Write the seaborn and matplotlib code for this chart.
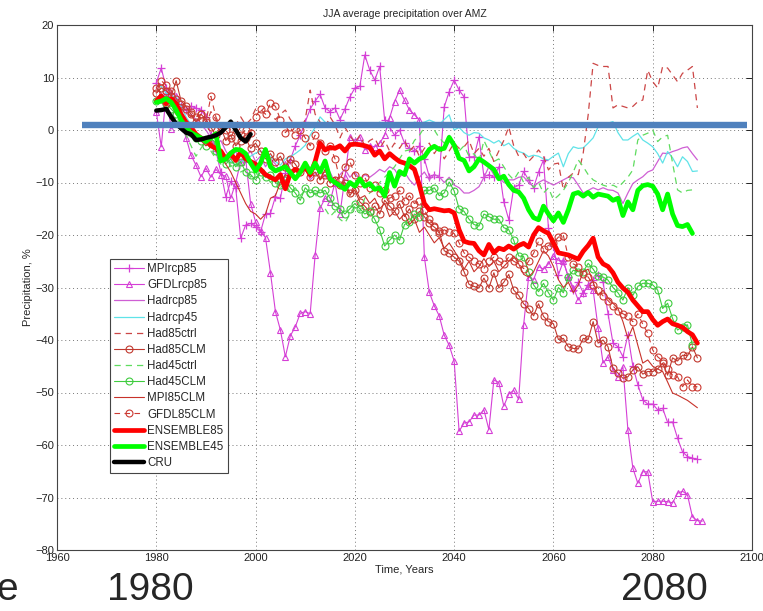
import numpy as np
import matplotlib
matplotlib.use("Agg")
import matplotlib.pyplot as plt
import seaborn as sns

# ---------------- data ----------------
START = 1980
MPIrcp85 = [9.0, 11.8, 8.0, 7.0, 5.5, 4.5, 3.8, 4.5, 4.2, 3.8,
            2.5, -1.0, -4.0, -8.0, -12.7, -9.8, -11.0, -20.6, -18.1, -17.8,
            -18.5, -19.4, -16.0, -15.9, -12.7, -13.0, -8.2, -5.7, -3.0, -1.0,
            1.5, 4.0, 5.5, 6.8, 4.2, 3.5, 4.2, 2.0, 4.0, 6.3,
            8.0, 8.3, 14.3, 11.4, 9.5, 12.1, 1.9, 0.5, -1.0, 0.0,
            -2.5, -3.5, -4.0, -3.0, -5.5, -8.9, -8.5, -8.9, 4.4, 7.3,
            9.5, 7.6, 6.3, -5.1, -5.1, -1.3, -8.9, -8.5, -9.0, -7.0,
            -13.7, -17.1, -11.0, -10.5, -7.9, -9.5, -11.0, -8.0, -5.7, -18.7,
            -22.0, -27.6, -25.0, -28.0, -30.5, -29.0, -31.0, -29.5, -28.5, -27.6,
            -29.0, -35.0, -40.6, -41.3, -43.2, -39.0, -45.0, -48.5, -51.4, -52.2,
            -52.2, -53.3, -53.0, -55.7, -55.6, -58.7, -61.3, -62.2, -62.5, -62.7]
GFDLrcp85 = [3.5, -3.2, 7.0, 0.2, 6.5, 2.0, -1.5, -4.8, -6.7, -8.9,
             -7.3, -9.0, -7.5, -8.5, -8.8, -13.0, -10.0, -6.0, -5.5, -14.0,
             -17.5, -19.3, -20.5, -27.2, -34.6, -38.1, -43.2, -39.2, -37.5, -34.9,
             -34.6, -35.0, -23.8, -14.9, -13.0, -13.7, -10.0, -16.0, -9.0, -1.3,
             -2.0, -1.3, -3.8, -3.0, -3.2, -2.5, -1.0, 2.3, 5.4, 7.6,
             5.7, 3.8, 2.9, 1.9, -24.2, -30.9, -33.5, -35.4, -39.1, -41.0,
             -44.0, -57.4, -55.8, -55.6, -54.3, -54.3, -53.3, -57.1, -47.6, -48.1,
             -52.6, -50.3, -49.6, -51.3, -37.1, -28.0, -28.5, -26.0, -26.5, -25.5,
             -24.0, -24.8, -25.0, -28.0, -30.0, -32.4, -31.0, -29.8, -30.5, -37.7,
             -44.4, -43.2, -45.7, -47.0, -45.1, -57.1, -64.4, -67.3, -65.1, -65.1,
             -70.8, -70.7, -70.7, -70.8, -71.0, -69.2, -68.8, -69.5, -73.7, -74.4,
             -74.5]
Hadrcp85 = [8.0, 7.0, 6.0, 5.0, 4.5, 3.5, 4.0, 3.0, 2.0, 1.0,
            0.0, -1.5, -3.0, -2.0, -4.0, -5.5, -4.0, -6.5, -5.0, -4.0,
            -6.0, -5.0, -7.0, -5.5, -6.5, -8.0, -6.0, -7.5, -9.0, -8.0,
            -7.0, -9.5, -8.5, -7.5, -9.0, -8.0, -10.0, -8.5, -7.5, -9.0,
            -8.0, -9.5, -8.5, -9.0, -8.3, -7.5, -8.0, -7.0, -7.5, -9.0,
            -8.0, -9.5, -10.5, -9.0, -8.0, -9.5, -8.5, -8.9, -10.0, -9.0,
            -10.5, -11.0, -12.0, -12.0, -11.5, -10.8, -9.0, -7.0, -8.5, -9.0,
            -10.0, -9.5, -9.5, -9.0, -8.9, -10.0, -10.8, -10.0, -9.5, -10.0,
            -10.5, -10.0, -9.5, -9.0, -9.1, -10.5, -12.0, -11.5, -11.0, -11.4,
            -11.0, -11.4, -11.5, -12.0, -14.0, -12.0, -10.2, -9.5, -8.9, -8.0,
            -7.6, -6.0, -4.4, -4.5, -4.1, -3.8, -3.4, -3.2, -4.5, -5.7]
Hadrcp45 = [8.5, 8.3, 7.0, 6.5, 6.3, 4.5, 2.5, 1.0, -0.5, -1.6,
            -2.5, -3.0, -3.8, -4.5, -5.7, -6.0, -6.7, -6.0, -5.7, -5.0,
            -4.4, -4.0, -4.5, -5.0, -6.0, -6.7, -5.5, -5.1, -4.5, -3.8,
            -2.9, -1.0, 0.5, 2.5, 1.5, 0.6, 1.0, 0.8, 1.5, 0.5,
            0.6, 1.0, 0.5, 1.2, 0.8, 1.5, 0.8, 1.0, 1.2, 0.8,
            1.3, 1.0, 1.5, 1.3, 1.5, 1.9, 1.5, 1.0, 2.0, 2.9,
            0.0, 0.5, -0.5, -1.0, -0.5, -0.6, -1.5, -1.9, -2.5, -2.0,
            -3.0, -2.5, -3.5, -4.1, -4.4, -5.1, -4.8, -5.0, -5.5, -5.7,
            -5.0, -4.4, -7.0, -4.5, -3.2, -3.5, -3.4, -2.5, -1.5, 0.6,
            1.0, 1.3, 1.6, -0.5, -1.9, -1.9, -1.2, -0.6, -1.9, -2.5,
            -3.2, -4.5, -6.3, -4.1, -5.3, -7.0, -5.1, -6.0, -7.9, -7.8]
Had85ctrl = [8.0, 7.0, 6.0, 6.5, 5.0, 4.0, 3.5, 2.5, 3.0, 2.0,
             1.0, 3.5, 2.0, 0.5, 1.5, 0.0, 1.0, 2.5, 1.0, 2.0,
             4.0, 3.5, 4.5, 3.0, 2.0, 3.0, 3.8, 2.0, 1.0, 0.0,
             2.0, 7.6, 3.0, 1.5, 0.5, 2.5, 1.0, -1.5, 0.5, -1.0,
             -2.5, -1.0, -3.0, -2.0, -1.5, -3.5, -2.0, -4.0, -2.5, -3.5,
             -2.0, -4.0, -3.0, -5.0, -3.5, -2.5, -4.5, -3.0, -5.5, -4.0,
             -2.5, -3.5, -3.2, -2.0, -4.5, -3.5, -5.0, -3.5, -6.0, -4.0,
             -2.0, 0.6, -3.0, -5.0, -4.5, -6.0, -5.0, -3.8, -5.0, -7.6,
             -6.5, -6.3, -11.4, -9.0, -8.2, -8.5, -4.4, 2.9, 12.7, 12.3,
             12.1, 12.1, 4.2, 4.8, 4.5, 4.2, 4.5, 5.4, 5.7, 11.4,
             9.2, 8.0, 12.1, 11.8, 10.5, 9.2, 10.8, 11.4, 12.1, 4.2]
Had85CLM = [7.0, 8.0, 7.5, 6.5, 9.4, 5.5, 4.5, 3.0, 1.5, 3.0,
            2.0, 0.5, -1.0, 0.5, -2.0, -1.0, -3.0, -2.0, -1.5, -3.5,
            -2.5, -4.0, -5.5, -4.5, -6.0, -5.0, -7.0, -5.5, -6.5, -8.0,
            -7.0, -9.0, -8.0, -9.5, -8.5, -10.0, -9.6, -10.5, -10.0, -12.0,
            -11.5, -13.7, -14.5, -15.6, -14.5, -16.0, -13.4, -14.5, -15.5, -14.0,
            -16.5, -15.0, -17.0, -15.5, -16.5, -17.8, -18.5, -19.3, -23.0, -23.5,
            -24.2, -25.0, -27.0, -29.4, -29.8, -30.1, -28.2, -30.1, -27.2, -30.1,
            -29.0, -27.5, -30.5, -31.5, -33.1, -34.0, -35.4, -33.1, -35.5, -36.5,
            -36.9, -39.9, -39.7, -41.3, -41.6, -41.7, -39.7, -39.9, -36.5, -40.6,
            -40.0, -41.3, -45.4, -46.3, -47.3, -47.0, -45.7, -45.1, -46.5, -46.0,
            -46.0, -45.5, -44.4, -46.7, -43.4, -44.0, -42.9, -43.0, -41.3, -43.4]
Had45ctrl = [6.0, 5.0, 4.5, 3.0, 2.0, 1.0, -1.0, -3.0, -5.0, -3.5,
             -2.0, -4.0, -5.5, -6.5, -5.0, -7.0, -6.0, -8.0, -7.5, -9.0,
             -8.0, -9.5, -8.5, -10.0, -9.0, -11.0, -10.0, -12.0, -11.0, -12.5,
             -11.5, -13.0, -12.0, -14.5, -15.0, -16.5, -15.5, -17.0, -17.7, -16.0,
             -14.5, -15.5, -13.0, -12.0, -11.0, -10.0, -9.0, -8.0, -7.0, -5.5,
             -4.0, -3.8, -2.0, -1.0, 0.5, 1.0, 0.0, -1.5, -2.5, -1.0,
             -3.0, -4.0, -3.0, -5.0, -4.5, -6.0, -2.0, -4.0, -6.0, -5.5,
             -7.0, -8.5, -9.5, -8.0, -10.0, -9.0, -11.0, -10.0, -12.0, -11.0,
             -13.3, -12.5, -11.5, -10.0, -8.0, -5.7, -7.0, -8.5, -9.5, -10.0,
             -10.5, -10.8, -10.5, -11.0, -10.0, -9.0, -7.6, -1.9, -1.0, -0.6,
             0.0, -2.2, -1.3, -1.0, -6.3, -11.4, -12.0, -11.5, -11.4]
Had45CLM = [5.5, 6.0, 5.0, 4.0, 3.0, 2.0, 0.5, -0.5, -1.5, -2.0,
            -3.0, -2.5, -4.0, -5.0, -6.5, -5.5, -7.0, -6.0, -8.0, -8.5,
            -9.5, -8.0, -9.0, -8.5, -10.0, -10.5, -9.5, -11.0, -12.0, -13.4,
            -11.0, -12.0, -11.5, -12.0, -11.5, -13.0, -14.5, -15.0, -16.0, -15.0,
            -14.0, -15.0, -16.0, -15.5, -17.0, -19.0, -22.1, -21.0, -20.0, -21.0,
            -18.0, -17.5, -16.0, -16.5, -11.5, -11.5, -11.0, -12.5, -12.0, -9.9,
            -11.6, -15.0, -15.5, -17.0, -18.0, -18.3, -16.0, -16.5, -17.0, -17.0,
            -18.6, -19.0, -21.0, -24.0, -24.1, -27.0, -29.5, -30.8, -29.2, -31.0,
            -32.4, -30.0, -31.0, -28.0, -26.7, -27.0, -27.0, -25.4, -26.5, -27.9,
            -28.0, -28.6, -30.0, -31.0, -32.4, -30.0, -31.5, -29.8, -29.2, -29.2,
            -29.5, -30.5, -34.0, -33.0, -35.9, -38.1, -37.5, -37.1, -41.0]
MPI85CLM = [6.0, 5.5, 4.0, 5.0, 3.0, 2.0, 1.0, 0.0, -1.0, -2.0,
            -3.0, -2.0, -4.0, -5.0, -6.5, -8.0, -10.0, -12.0, -14.0, -15.5,
            -16.0, -17.0, -16.0, -13.0, -12.5, -10.0, -8.5, -9.0, -7.5, -8.5,
            -7.0, -9.0, -6.0, -9.5, -7.5, -10.0, -9.0, -11.0, -10.5, -12.5,
            -11.0, -13.0, -12.5, -14.0, -13.0, -15.0, -14.0, -16.5, -15.5, -17.0,
            -16.0, -18.0, -17.0, -19.5, -18.5, -20.0, -21.5, -20.5, -22.5, -21.5,
            -23.0, -24.5, -26.5, -25.0, -27.0, -26.0, -24.5, -26.0, -25.0, -27.0,
            -26.0, -25.0, -24.0, -25.5, -27.5, -28.0, -27.0, -25.0, -23.0, -24.0,
            -26.0, -28.5, -30.0, -29.0, -31.0, -29.5, -27.0, -26.5, -29.0, -31.5,
            -30.5, -32.0, -33.0, -34.0, -36.5, -39.7, -37.5, -41.0, -44.4, -43.8,
            -45.0, -45.5, -46.0, -48.0, -50.1, -50.5, -51.0, -51.5, -52.2, -52.9]
GFDL85CLM = [8.0, 9.4, 8.5, 7.5, 6.0, 5.0, 4.0, 3.5, 2.5, 3.0,
             1.5, 6.4, 2.5, 0.5, 0.0, -1.5, 0.5, -1.0, 0.0, -0.5,
             2.5, 4.0, 3.0, 5.1, 4.5, 2.0, -0.5, 0.5, -1.0, 0.0,
             -1.5, -3.0, -1.0, -2.5, -4.0, -3.0, -5.5, -9.6, -7.0, -6.0,
             -8.5, -10.0, -9.0, -11.0, -10.5, -12.0, -11.5, -13.0, -12.5, -11.5,
             -13.5, -12.5, -14.0, -13.5, -15.2, -17.0, -18.2, -19.7, -19.0, -19.5,
             -19.7, -21.5, -23.4, -24.2, -25.0, -25.5, -26.4, -25.0, -24.2, -25.0,
             -25.5, -24.2, -25.0, -25.5, -26.4, -25.0, -23.5, -21.2, -22.7, -22.0,
             -21.5, -20.4, -20.1, -24.2, -25.5, -26.0, -27.5, -28.0, -29.5, -30.5,
             -31.6, -32.5, -33.5, -34.5, -35.0, -35.5, -36.5, -35.0, -37.0, -38.7,
             -41.9, -43.2, -44.0, -45.5, -46.7, -47.0, -48.9, -47.6, -48.9, -48.9]
ENSEMBLE85 = [5.5, 6.5, 5.0, 6.0, 5.0, 3.0, 1.5, 0.5, -0.8, -1.5,
              -2.0, -3.0, -3.5, -4.0, -5.5, -4.5, -5.8, -4.2, -5.5, -6.0,
              -6.5, -7.5, -8.5, -9.0, -9.5, -8.5, -11.2, -8.2, -7.5, -8.0,
              -7.0, -8.5, -6.0, -2.5, -3.8, -3.3, -3.5, -3.0, -4.0, -2.8,
              -2.7, -2.8, -3.0, -3.3, -4.8, -4.0, -5.5, -4.5, -5.3, -6.0,
              -6.3, -6.8, -7.5, -10.5, -14.0, -15.2, -15.0, -15.2, -15.4, -15.3,
              -15.8, -19.0, -21.2, -21.5, -21.6, -23.0, -23.8, -21.8, -23.4, -22.5,
              -22.8, -22.1, -22.7, -22.0, -21.6, -22.3, -20.0, -18.6, -19.2, -19.7,
              -21.5, -23.4, -23.6, -23.8, -24.2, -24.6, -23.1, -22.0, -20.6, -24.2,
              -25.5, -26.0, -27.2, -29.0, -30.1, -30.9, -32.4, -33.5, -34.6, -34.6,
              -36.1, -37.2, -36.5, -36.0, -36.9, -37.2, -37.6, -38.4, -39.0, -40.6]
ENSEMBLE45 = [5.3, 5.5, 6.0, 5.3, 3.8, 1.9, 0.5, -0.5, -1.0, -1.5,
              -2.2, -1.5, -0.7, -5.9, -5.5, -4.4, -3.7, -3.8, -4.5, -6.3,
              -7.8, -6.3, -3.7, -7.0, -7.8, -7.4, -7.0, -8.1, -9.3, -8.1,
              -6.3, -8.1, -6.3, -8.0, -5.9, -9.3, -10.0, -10.6, -11.3, -10.0,
              -10.7, -9.3, -10.7, -10.2, -11.3, -11.0, -12.6, -8.1, -10.7, -7.9,
              -8.5, -5.5, -6.3, -5.5, -5.1, -3.7, -3.1, -3.7, -3.5, -1.4,
              -2.9, -5.4, -5.8, -7.8, -7.0, -5.5, -6.1, -6.8, -7.5, -9.3,
              -8.8, -10.4, -11.5, -11.8, -13.0, -15.2, -16.7, -17.1, -14.5, -16.0,
              -17.3, -15.8, -17.6, -15.2, -12.2, -11.9, -12.6, -11.9, -12.8, -12.2,
              -12.4, -12.6, -13.4, -13.0, -16.3, -13.7, -15.2, -11.5, -10.6, -10.4,
              -10.7, -12.2, -15.2, -12.2, -16.0, -18.2, -18.4, -18.0, -19.7]
CRU = [3.7, 3.8, 4.0, 2.5, 1.2, 0.3, -0.5, -0.8, -1.9, -1.8,
       -1.5, -1.3, -1.0, -0.5, 0.5, 1.6, 0.0, -1.5, -2.2, -0.8]

ref_line_years = [1965, 2099]
ref_line_value = 1.0

xticks = [1960, 1980, 2000, 2020, 2040, 2060, 2080, 2100]
yticks = [-80, -70, -60, -50, -40, -30, -20, -10, 0, 10, 20]

# ---------------- styles ----------------
MAG = "#d53fd6"
DASH = (0, (5, 4))
series = [
    ("MPIrcp85", MPIrcp85, dict(color=MAG, lw=0.8, marker="+", ms=6, mew=0.9, mec=MAG)),
    ("GFDLrcp85", GFDLrcp85, dict(color=MAG, lw=0.8, marker="^", ms=5, mew=0.8, mfc="none", mec=MAG)),
    ("Hadrcp85", Hadrcp85, dict(color="#cf5fd4", lw=0.9)),
    ("Hadrcp45", Hadrcp45, dict(color="#5fe3e8", lw=0.9)),
    ("Had85ctrl", Had85ctrl, dict(color="#cc4646", lw=0.9, linestyle=DASH)),
    ("Had85CLM", Had85CLM, dict(color="#c1392f", lw=0.8, marker="o", ms=5, mew=0.8, mfc="none", mec="#c1392f")),
    ("Had45ctrl", Had45ctrl, dict(color="#5fdc5f", lw=0.9, linestyle=DASH)),
    ("Had45CLM", Had45CLM, dict(color="#3fcc3f", lw=0.8, marker="o", ms=5, mew=0.8, mfc="none", mec="#3fcc3f")),
    ("MPI85CLM", MPI85CLM, dict(color="#c8322a", lw=0.8)),
    ("GFDL85CLM", GFDL85CLM, dict(color="#cc3a32", lw=0.8, linestyle=DASH, marker="o", ms=5, mew=0.8, mfc="none", mec="#cc3a32")),
    ("ENSEMBLE85", ENSEMBLE85, dict(color="#ff0000", lw=3.4)),
    ("ENSEMBLE45", ENSEMBLE45, dict(color="#00ff00", lw=3.4)),
    ("CRU", CRU, dict(color="#000000", lw=3.2)),
]

sns.set_style("white")
plt.rcParams["font.family"] = ["Liberation Sans", "DejaVu Sans"]

fig = plt.figure(figsize=(7.63, 6.11), dpi=100)
ax = fig.add_axes([57 / 763, 61 / 611, 695 / 763, 525 / 611])

for name, vals, st in series:
    yrs = np.arange(START, START + len(vals))
    sns.lineplot(x=yrs, y=vals, ax=ax, label=name, sort=False, **st)

ax.plot(ref_line_years, [ref_line_value, ref_line_value], color="#4f81bd",
        lw=4.6, solid_capstyle="butt", zorder=10)

ax.set_xlim(xticks[0], xticks[-1])
ax.set_ylim(yticks[0], yticks[-1])
ax.set_xticks(xticks)
ax.set_yticks(yticks)
ax.set_yticklabels([("\u2212" + str(-v)) if v < 0 else str(v) for v in yticks])
ax.grid(True, color="#777777", linestyle=(0, (1, 3)), lw=0.7)
ax.tick_params(direction="in", length=4, width=0.7, labelsize=8, colors="#222222",
               top=True, right=True, pad=2)
for sp in ax.spines.values():
    sp.set_color("#444444")
    sp.set_linewidth(0.8)
ax.set_xlabel("Time, Years", fontsize=8, labelpad=1)
ax.set_ylabel("Precipitation, %", fontsize=8, labelpad=2)
ax.set_title("JJA average precipitation over AMZ", fontsize=7.5, pad=6)

leg = ax.legend(loc="lower left", bbox_to_anchor=(110 / 763, 138 / 611),
                bbox_transform=fig.transFigure, fontsize=8.3, frameon=True,
                fancybox=False, edgecolor="#444444", framealpha=1,
                handlelength=2.6, handletextpad=0.3, labelspacing=0.36,
                borderpad=0.35, borderaxespad=0, numpoints=1)
leg.get_frame().set_linewidth(0.8)

fig.text(-0.005, 0.034, "e", fontsize=28, ha="left", va="center")
fig.text(150 / 763, 0.034, "1980", fontsize=28, ha="center", va="center")
fig.text(664 / 763, 0.034, "2080", fontsize=28, ha="center", va="center")

fig.savefig("out.png", dpi=100)
